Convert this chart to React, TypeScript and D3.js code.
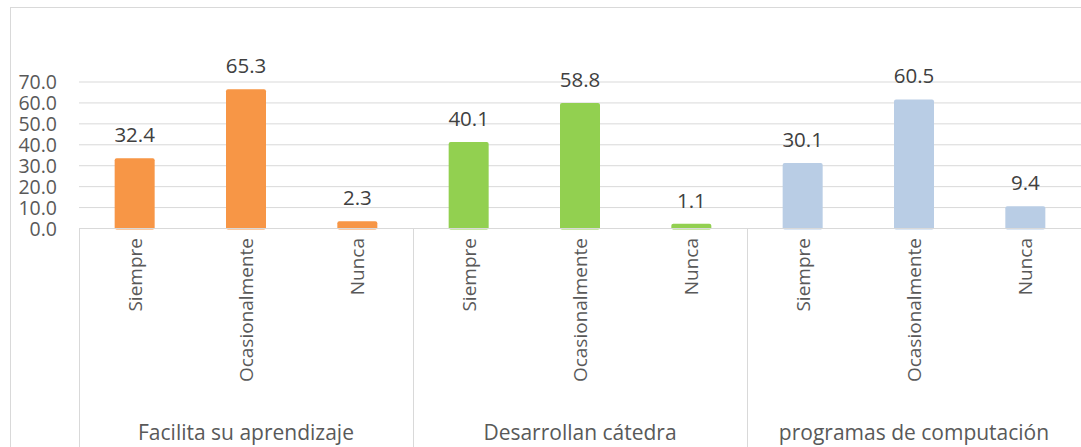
import React from 'react';
import * as d3 from 'd3';

// Data
const groups = ['Facilita su aprendizaje', 'Desarrollan cátedra', 'programas de computación'];
const answers = ['Siempre', 'Ocasionalmente', 'Nunca'];
const groupValues = [
  [32.4, 65.3, 2.3],
  [40.1, 58.8, 1.1],
  [30.1, 60.5, 9.4],
];
const groupColors = ['#F79646', '#92D050', '#B9CDE5'];
const yTicks = [0, 10, 20, 30, 40, 50, 60, 70];

const WIDTH = 1081;
const HEIGHT = 447;
const FONT = '"Open Sans", "Liberation Sans", sans-serif';

const App: React.FC = () => {
  const marginLeft = 79;
  const plotRight = 1081;
  const zeroY = 228.5;

  const x0 = d3.scaleBand<string>().domain(groups).range([marginLeft, plotRight]);
  const x1 = d3.scaleBand<string>().domain(answers).range([0, x0.bandwidth()]);
  const barWidth = 40;

  const y = d3.scaleLinear().domain([0, 70]).range([zeroY, 82]);

  return (
    <svg
      width={WIDTH}
      height={HEIGHT}
      style={{ position: 'absolute', left: 0, top: 0, background: '#fff' }}
      fontFamily={FONT}
    >
      {/* outer chart border */}
      <rect x={10.5} y={7.5} width={WIDTH + 20} height={HEIGHT + 20} fill="#fff" stroke="#D9D9D9" />

      {/* gridlines */}
      {yTicks.map(t => (
        <line key={t} x1={marginLeft} x2={plotRight} y1={y(t)} y2={y(t)} stroke="#D9D9D9" strokeWidth={1} />
      ))}

      {/* y tick labels */}
      {yTicks.map(t => (
        <text key={t} x={57} y={y(t)} dy="0.36em" textAnchor="end" fontSize={19.5} fill="#595959">
          {t.toFixed(1)}
        </text>
      ))}

      {/* bars */}
      {groups.map((g, gi) => (
        <g key={g} transform={`translate(${x0(g)},0)`}>
          {answers.map((a, ai) => {
            const v = groupValues[gi][ai];
            const cx = (x1(a) ?? 0) + x1.bandwidth() / 2;
            const top = y(v) - 2.5;
            return (
              <g key={a}>
                <rect
                  x={cx - barWidth / 2}
                  y={top}
                  width={barWidth}
                  height={zeroY + 1 - top}
                  rx={2}
                  fill={groupColors[gi]}
                />
                <text x={cx} y={top - 16} textAnchor="middle" fontSize={20.5} fill="#404040">
                  {v.toFixed(1)}
                </text>
                <text
                  transform={`translate(${cx},${238}) rotate(-90)`}
                  textAnchor="end"
                  dy="0.36em"
                  fontSize={19}
                  fill="#595959"
                >
                  {a}
                </text>
              </g>
            );
          })}
          <text x={x0.bandwidth() / 2} y={440} textAnchor="middle" fontSize={21} fill="#595959">
            {g}
          </text>
        </g>
      ))}

      {/* category axis */}
      <line x1={marginLeft} x2={plotRight} y1={zeroY} y2={zeroY} stroke="#D9D9D9" />
      {[marginLeft, ...groups.slice(1).map(g => x0(g) ?? 0)].map((xv, i) => (
        <line key={i} x1={Math.round(xv) + 0.5} x2={Math.round(xv) + 0.5} y1={zeroY} y2={HEIGHT} stroke="#D9D9D9" />
      ))}
    </svg>
  );
};

export default App;
